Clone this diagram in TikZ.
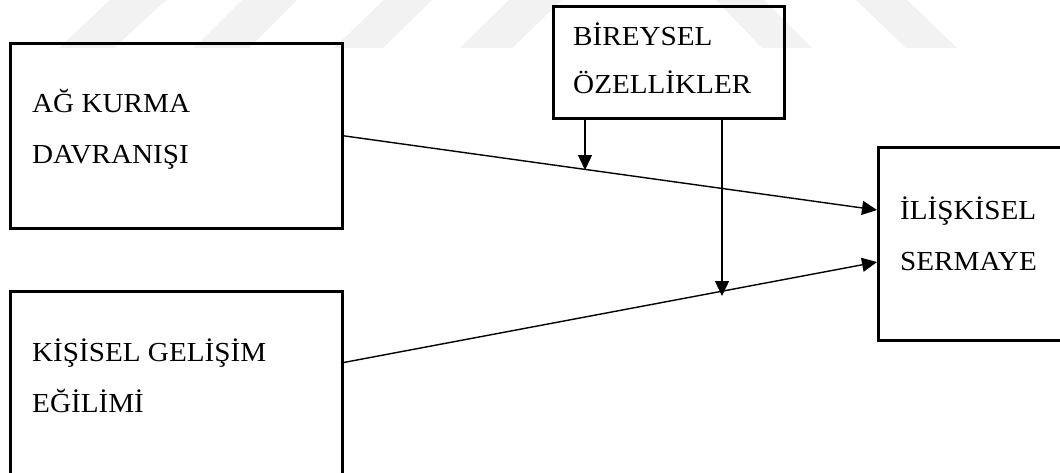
\documentclass[tikz,border=0pt]{standalone}
\usepackage{fontspec}
\setmainfont{Liberation Serif}[FakeStretch=1.06]
\usetikzlibrary{arrows.meta}
\tikzset{
  box/.style={draw, line width=2.6pt, rectangle, inner sep=0pt},
  boxtext/.style={anchor=base west, inner sep=0pt, font=\fontsize{27.5}{33}\selectfont},
  link/.style={line width=1.4pt, -{Triangle[length=15pt,width=14pt]}},
  stripe/.style={fill=black!5, draw=none}
}
\begin{document}
\begin{tikzpicture}[x=1pt,y=-1pt]
\useasboundingbox (0,0) rectangle (1060,472);
\clip (0,0) rectangle (1060,472);
\fill[white] (0,0) rectangle (1060,472);

% faint background stripes
\fill[stripe] (59,48) -- (114,48) -- (166,0) -- (110,0) -- cycle;
\fill[stripe] (194,48) -- (249,48) -- (297,0) -- (242,0) -- cycle;
\fill[stripe] (334,48) -- (383,48) -- (432,0) -- (384,0) -- cycle;
\fill[stripe] (460,48) -- (512,48) -- (562,0) -- (509,0) -- cycle;
\fill[stripe] (716,0) -- (764,0) -- (812,48) -- (762,48) -- cycle;
\fill[stripe] (856,0) -- (907,0) -- (957,48) -- (906,48) -- cycle;

% boxes
\node[box, anchor=north west, minimum width=332pt, minimum height=185pt] (A) at (9,42) {};
\node[box, anchor=north west, minimum width=332pt, minimum height=200pt] (K) at (9,290) {};
\node[box, anchor=north west, minimum width=231pt, minimum height=112pt] (B) at (552,5) {};
\node[box, anchor=north west, minimum width=200pt, minimum height=193pt] (R) at (877,146) {};

% labels
\node[boxtext] (a1) at (32,112) {AĞ KURMA};
\node[boxtext] (a2) at (32,163) {DAVRANIŞI};
\node[boxtext] (k1) at (32,361) {KİŞİSEL GELİŞİM};
\node[boxtext] (k2) at (32,412) {EĞİLİMİ};
\node[boxtext] (b1) at (573,45) {BİREYSEL};
\node[boxtext] (b2) at (573,93) {ÖZELLİKLER};
\node[boxtext] (r1) at (900,219) {İLİŞKİSEL};
\node[boxtext] (r2) at (900,270) {SERMAYE};

% connector end points
\coordinate (aout) at (A.east);
\coordinate (kout) at (341,363);
\coordinate (rin1) at (877,210);
\coordinate (rin2) at (877,262);
\coordinate (m1) at (585,170);
\coordinate (m2) at (722,296);

% main paths
\draw[link] (aout) -- (rin1);
\draw[link] (kout) -- (rin2);

% moderating arrows
\draw[link] (B.south -| m1) -- (m1);
\draw[link] (B.south -| m2) -- (m2);
\end{tikzpicture}
\end{document}
